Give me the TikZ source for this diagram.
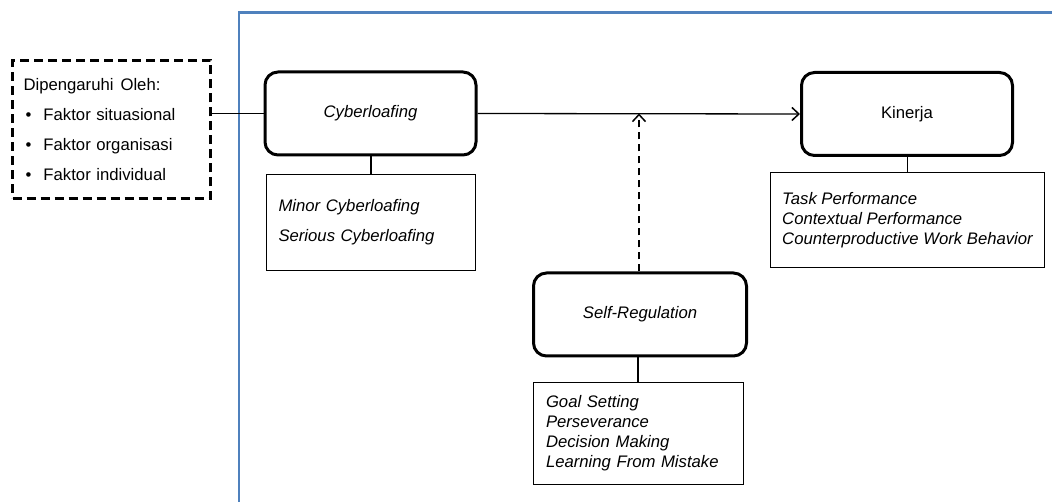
\documentclass[tikz,border=0pt]{standalone}
\usepackage{fontspec}
\setmainfont{Liberation Sans}
\usetikzlibrary{arrows.meta}
\definecolor{frameblue}{HTML}{4F81BD}
\begin{document}
\begin{tikzpicture}[x=1pt,y=-1pt,
  every node/.style={font=\fontsize{16.7}{20}\selectfont},
  ital/.style={font=\fontsize{16.7}{20}\selectfont\itshape},
  mainbox/.style={draw,line width=3pt,rounded corners=13pt,minimum width=211pt,minimum height=83pt,inner sep=0pt},
  subbox/.style={draw,ital,line width=0.9pt,inner xsep=12pt,inner ysep=0pt,align=left},
  link/.style={line width=1.3pt},
  tip/.style={-{Straight Barb[length=7pt,width=13pt,line width=1.5pt]}}
]
\useasboundingbox (0,0) rectangle (1052,502);
% blue frame
\draw[frameblue,line width=2.6pt] (239,502) -- (239,12.7) -- (1052,12.7);
% dashed box
\node[draw,line width=2.6pt,dash pattern=on 9pt off 5pt,minimum width=198pt,minimum height=138pt,
  text width=176pt,inner xsep=11pt,inner ysep=0pt,align=left] (dbox) at (111.5,129.5)
  {Dipengaruhi\hspace{7pt}Oleh:\\[10pt]
   \hspace*{2pt}\makebox[18pt][l]{•}Faktor situasional\\[10pt]
   \hspace*{2pt}\makebox[18pt][l]{•}Faktor organisasi\\[10pt]
   \hspace*{2pt}\makebox[18pt][l]{•}Faktor individual};
% main boxes
\node[mainbox,ital] (cyb) at (370.5,113.5) {Cyberloafing};
\node[mainbox] (kin) at (907,114) {Kinerja};
\node[mainbox,ital,minimum width=213pt] (sr) at (640,314.5) {Self-Regulation};
% sub boxes
\node[subbox,minimum width=209pt,minimum height=96pt,text width=185pt] (cybsub) at (371,222.5)
  {Minor Cyberloafing\\[10pt] Serious Cyberloafing};
\node[subbox,minimum width=274pt,minimum height=95pt,inner xsep=0pt] (kinsub) at (907.5,220)
  {Task Performance\\ Contextual Performance\\ Counterproductive Work Behavior};
\node[subbox,minimum width=209pt,minimum height=102pt,text width=184pt,inner xsep=13pt] (srsub) at (638,433.5)
  {Goal Setting\\ Perseverance\\ Decision Making\\ Learning From Mistake};
% connectors
\draw[link] (cyb.west) -- (cyb.west -| dbox.east);
\draw[link,tip] (cyb.east) -- (kin.west);
\draw[link,dash pattern=on 7pt off 5pt,tip] (sr.north -| 639,0) -- (639,113.5);
\draw[link] (cyb.south -| cybsub.north) -- (cybsub.north);
\draw[link] (kin.south -| kinsub.north) -- (kinsub.north);
\draw[link] (sr.south -| srsub.north) -- (srsub.north);
\end{tikzpicture}
\end{document}
